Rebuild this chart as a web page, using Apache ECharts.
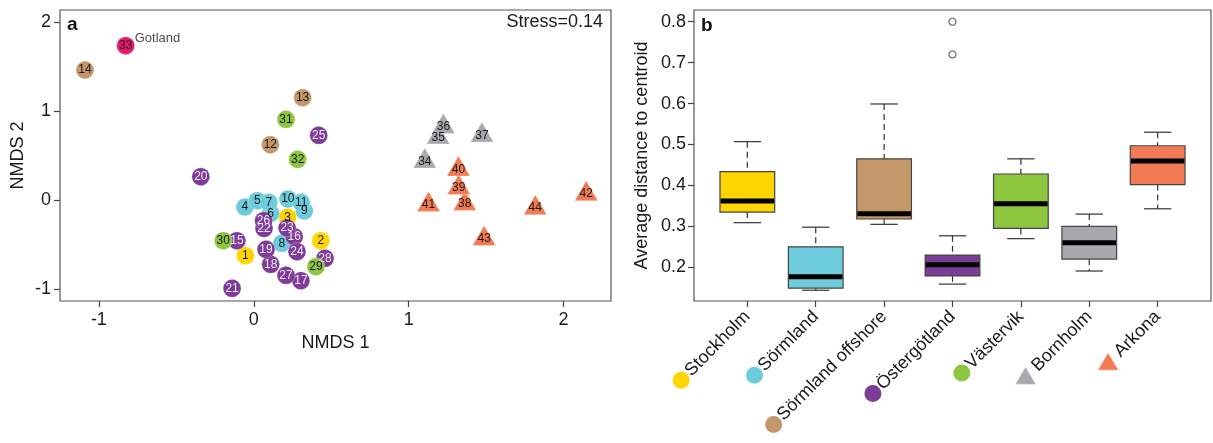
<!DOCTYPE html>
<html>
<head>
<meta charset="utf-8">
<script src="https://cdn.jsdelivr.net/npm/echarts@6/dist/echarts.min.js"></script>
<style>
html,body{margin:0;padding:0;background:#fff;}
#chart{width:1213px;height:443px;}
</style>
</head>
<body>
<div id="chart"></div>
<script>
// ---------- DATA ----------
const siteIds = [1,2,3,4,5,6,7,8,9,10,11,12,13,14,15,16,17,18,19,20,21,22,23,24,25,26,27,28,29,30,31,32,33,34,35,36,37,38,39,40,41,42,43,44];
const nmds1 = [-0.054,0.433,0.218,-0.057,0.023,0.109,0.097,0.181,0.326,0.220,0.306,0.107,0.315,-1.090,-0.109,0.261,0.304,0.109,0.079,-0.342,-0.140,0.066,0.215,0.279,0.419,0.063,0.208,0.460,0.401,-0.197,0.208,0.283,-0.827,1.104,1.190,1.224,1.473,1.362,1.323,1.321,1.128,2.146,1.487,1.817];
const nmds2 = [-0.622,-0.454,-0.191,-0.075,-0.004,-0.146,-0.023,-0.483,-0.120,0.015,-0.023,0.625,1.153,1.464,-0.454,-0.409,-0.903,-0.719,-0.551,0.265,-0.989,-0.315,-0.311,-0.577,0.730,-0.229,-0.843,-0.652,-0.746,-0.454,0.910,0.461,1.737,0.438,0.708,0.827,0.730,-0.038,0.142,0.348,-0.049,0.071,-0.431,-0.087];
const siteGroup = ['Stockholm','Stockholm','Stockholm',
  'Sörmland','Sörmland','Sörmland','Sörmland','Sörmland','Sörmland','Sörmland','Sörmland',
  'Sörmland offshore','Sörmland offshore','Sörmland offshore',
  'Östergötland','Östergötland','Östergötland','Östergötland','Östergötland','Östergötland','Östergötland','Östergötland','Östergötland','Östergötland','Östergötland','Östergötland','Östergötland','Östergötland',
  'Västervik','Västervik','Västervik','Västervik',
  'Gotland',
  'Bornholm','Bornholm','Bornholm','Bornholm',
  'Arkona','Arkona','Arkona','Arkona','Arkona','Arkona','Arkona'];
const namedSites = {33: 'Gotland'};
const nmdsTicks = [-1, 0, 1, 2];
const stressText = 'Stress=0.14';

const boxGroups = ['Stockholm','Sörmland','Sörmland offshore','Östergötland','Västervik','Bornholm','Arkona'];
const boxLow    = [0.309, 0.144, 0.305, 0.159, 0.270, 0.191, 0.343];
const boxQ1     = [0.335, 0.149, 0.318, 0.179, 0.295, 0.220, 0.402];
const boxMedian = [0.362, 0.177, 0.331, 0.206, 0.355, 0.260, 0.460];
const boxQ3     = [0.434, 0.250, 0.465, 0.230, 0.428, 0.300, 0.497];
const boxHigh   = [0.507, 0.298, 0.599, 0.277, 0.465, 0.330, 0.530];
const outlierGroup = ['Östergötland', 'Östergötland'];
const outlierValue = [0.80, 0.72];
const distTicks = [0.2, 0.3, 0.4, 0.5, 0.6, 0.7, 0.8];

// ---------- STYLE ----------
const FONT = "'Liberation Sans', Arial, Helvetica, sans-serif";
const groupStyle = {
  'Stockholm':         {color:'#FDD600', shape:'circle',   label:'#1a1a1a'},
  'Sörmland':          {color:'#6DCCDC', shape:'circle',   label:'#1a1a1a'},
  'Sörmland offshore': {color:'#C4976A', shape:'circle',   label:'#1a1a1a'},
  'Östergötland':      {color:'#7D3C96', shape:'circle',   label:'#F1E9F6'},
  'Västervik':         {color:'#8DC63F', shape:'circle',   label:'#1a1a1a'},
  'Gotland':           {color:'#E8186E', shape:'circle',   label:'#1a1a1a'},
  'Bornholm':          {color:'#A7A9AC', shape:'triangle', label:'#1a1a1a'},
  'Arkona':            {color:'#F27B53', shape:'triangle', label:'#1a1a1a'}
};
const groupOrder = ['Stockholm','Sörmland','Sörmland offshore','Östergötland','Västervik','Gotland','Bornholm','Arkona'];

const chart = echarts.init(document.getElementById('chart'), null, {renderer:'canvas'});

// scatter series for panel a
const series = [];
groupOrder.forEach(g => {
  const st = groupStyle[g];
  const data = [];
  siteIds.forEach((id, i) => { if (siteGroup[i] === g) data.push({value:[nmds1[i], nmds2[i], id]}); });
  const tri = st.shape === 'triangle';
  series.push({
    type:'scatter', xAxisIndex:0, yAxisIndex:0, silent:true, animation:false,
    symbol: st.shape,
    symbolSize: tri ? [23, 20] : 18,
    symbolOffset: tri ? [0, -3.3] : [0, 0],
    itemStyle: {color: st.color, opacity:1, borderColor:'rgba(255,255,255,0.5)', borderWidth:0.6},
    label: {show:true, position:'inside', formatter: p => String(p.value[2]),
            color: st.label, fontSize: 12, fontFamily: FONT, offset: tri ? [0, 3.3] : [0, 0]},
    data
  });
});
// place-name label
const namedData = Object.keys(namedSites).map(k => {
  const i = siteIds.indexOf(+k);
  return {value:[nmds1[i], nmds2[i]], name: namedSites[k]};
});
series.push({
  type:'scatter', xAxisIndex:0, yAxisIndex:0, silent:true, animation:false,
  symbolSize:0, data: namedData,
  label:{show:true, position:'right', distance:9, offset:[0,-7], formatter: p => p.name,
         color:'#1a1a1a', fontSize:13, fontFamily:FONT}
});

// boxplots for panel b
const boxData = boxGroups.map((g, i) => [i + 1, boxLow[i], boxQ1[i], boxMedian[i], boxQ3[i], boxHigh[i]]);
series.push({
  type:'custom', xAxisIndex:1, yAxisIndex:1, silent:true, animation:false,
  data: boxData,
  renderItem: (params, api) => {
    const x = api.value(0);
    const lo = api.coord([x, api.value(1)]);
    const q1 = api.coord([x, api.value(2)]);
    const md = api.coord([x, api.value(3)]);
    const q3 = api.coord([x, api.value(4)]);
    const hi = api.coord([x, api.value(5)]);
    const bw = api.size([0.8, 0])[0];
    const cw = api.size([0.4, 0])[0];
    const col = groupStyle[boxGroups[params.dataIndex]].color;
    const dash = {stroke:'#333', lineWidth:1.2, lineDash:[6,4]};
    const solid = {stroke:'#333', lineWidth:1.2};
    return {type:'group', children:[
      {type:'line', shape:{x1:hi[0], y1:hi[1], x2:q3[0], y2:q3[1]}, style:dash},
      {type:'line', shape:{x1:q1[0], y1:q1[1], x2:lo[0], y2:lo[1]}, style:dash},
      {type:'line', shape:{x1:hi[0]-cw/2, y1:hi[1], x2:hi[0]+cw/2, y2:hi[1]}, style:solid},
      {type:'line', shape:{x1:lo[0]-cw/2, y1:lo[1], x2:lo[0]+cw/2, y2:lo[1]}, style:solid},
      {type:'rect', shape:{x:q3[0]-bw/2, y:q3[1], width:bw, height:q1[1]-q3[1]}, style:{fill:col, stroke:'#444', lineWidth:1.2}},
      {type:'line', shape:{x1:md[0]-bw/2+0.6, y1:md[1], x2:md[0]+bw/2-0.6, y2:md[1]}, style:{stroke:'#000', lineWidth:5}}
    ]};
  }
});
series.push({
  type:'scatter', xAxisIndex:1, yAxisIndex:1, silent:true, animation:false,
  symbol:'circle', symbolSize:7,
  itemStyle:{color:'#fff', borderColor:'#555', borderWidth:1.3},
  data: outlierGroup.map((g, i) => [boxGroups.indexOf(g) + 1, outlierValue[i]])
});

// rotated category labels with markers
function triangleImage(color) {
  const c = document.createElement('canvas');
  c.width = 24; c.height = 24;
  const ctx = c.getContext('2d');
  ctx.translate(12, 12);
  ctx.rotate(Math.PI / 4);
  ctx.beginPath();
  ctx.moveTo(0, -10.5); ctx.lineTo(10, 6.5); ctx.lineTo(-10, 6.5); ctx.closePath();
  ctx.fillStyle = color; ctx.fill();
  return c;
}
const rich = {t:{fontSize:18, color:'#1a1a1a', fontFamily:FONT, padding:[0,0,0,1]}};
boxGroups.forEach((g, i) => {
  const st = groupStyle[g];
  if (st.shape === 'triangle') {
    rich['m' + i] = {width:24, height:24, backgroundColor:{image: triangleImage(st.color)}};
  } else {
    rich['m' + i] = {width:17, height:17, borderRadius:8.5, backgroundColor: st.color};
  }
});
const boxPositions = boxGroups.map((g, i) => i + 1);

const axisText = {fontSize:18, color:'#1a1a1a', fontFamily:FONT};
const tickStyle = {show:true, length:6, lineStyle:{color:'#444', width:1.2}};
const noLine = {show:false, onZero:false};

chart.setOption({
  animation:false,
  backgroundColor:'#fff',
  title:[
    {text:'a', left:67, top:15, padding:0, textStyle:{fontSize:19, fontWeight:'bold', color:'#111', fontFamily:FONT}},
    {text:stressText, right:610, top:13, padding:0, textStyle:{fontSize:18, fontWeight:'normal', color:'#1a1a1a', fontFamily:FONT}},
    {text:'b', left:701, top:16, padding:0, textStyle:{fontSize:19, fontWeight:'bold', color:'#111', fontFamily:FONT}}
  ],
  grid:[
    {left:60, top:10, width:551, height:291, show:true, borderColor:'#555', borderWidth:1.2, backgroundColor:'transparent'},
    {left:694, top:10, width:517, height:291, show:true, borderColor:'#555', borderWidth:1.2, backgroundColor:'transparent'}
  ],
  xAxis:[
    {type:'value', gridIndex:0, min:-1.251, max:2.306, position:'bottom',
     axisLine:noLine, splitLine:{show:false},
     axisTick:Object.assign({customValues:nmdsTicks}, tickStyle),
     axisLabel:Object.assign({customValues:nmdsTicks, margin:10, formatter: v => String(v)}, axisText),
     name:'NMDS 1', nameLocation:'middle', nameGap:32, nameTextStyle:axisText},
    {type:'value', gridIndex:1, min:0.22, max:7.78, position:'bottom',
     axisLine:noLine, splitLine:{show:false},
     axisTick:Object.assign({customValues:boxPositions}, tickStyle),
     axisLabel:{customValues:boxPositions, rotate:45, margin:13, interval:0,
       formatter: v => { const i = Math.round(v) - 1; return (i < 0 || i >= boxGroups.length) ? '' : '{m' + i + '| }{t|' + boxGroups[i] + '}'; },
       rich: rich}}
  ],
  yAxis:[
    {type:'value', gridIndex:0, min:-1.131, max:2.138, position:'left',
     axisLine:noLine, splitLine:{show:false},
     axisTick:Object.assign({customValues:nmdsTicks}, tickStyle),
     axisLabel:Object.assign({customValues:nmdsTicks, margin:9, formatter: v => String(v)}, axisText),
     name:'NMDS 2', nameLocation:'middle', nameRotate:90, nameGap:33, nameTextStyle:axisText},
    {type:'value', gridIndex:1, min:0.1177, max:0.8286, position:'left',
     axisLine:noLine, splitLine:{show:false},
     axisTick:Object.assign({customValues:distTicks}, tickStyle),
     axisLabel:Object.assign({customValues:distTicks, margin:8, formatter: v => v.toFixed(1)}, axisText),
     name:'Average distance to centroid', nameLocation:'middle', nameRotate:90, nameGap:43, nameTextStyle:axisText}
  ],
  series: series
});
</script>
</body>
</html>
